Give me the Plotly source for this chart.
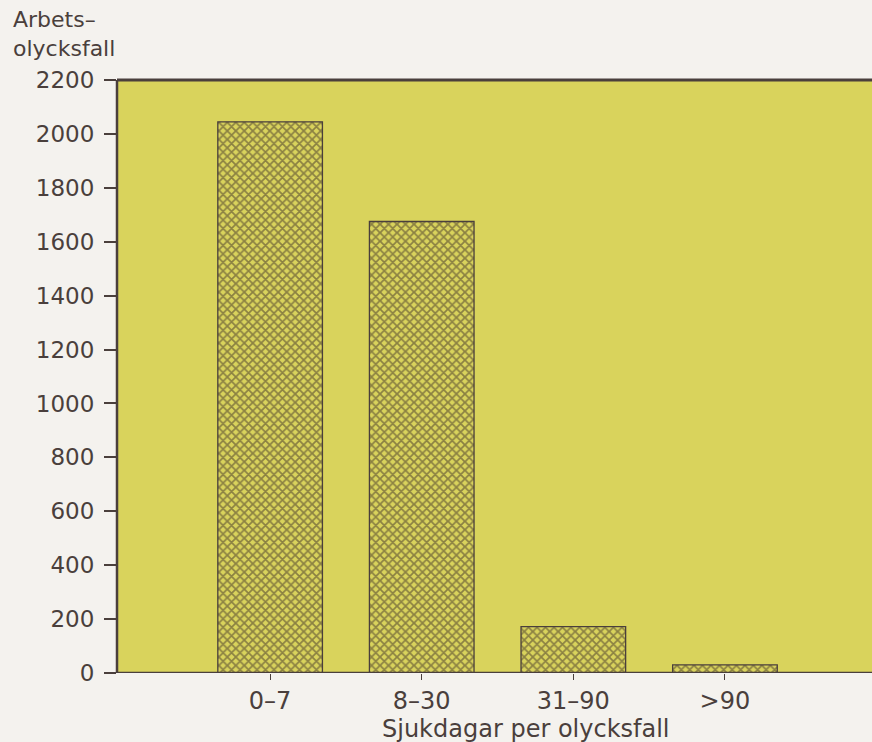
import plotly.graph_objects as go

# Data
categories = ["0\u20137", "8\u201330", "31\u201390", ">90"]
positions = [0, 1, 2, 3]
accidents = [2045, 1675, 172, 30]
y_ticks = [0, 200, 400, 600, 800, 1000, 1200, 1400, 1600, 1800, 2000, 2200]

yellow = "#d9d35c"
ink = "#4a3f3c"
paper = "#f4f2ee"
font = "DejaVu Sans"

fig = go.Figure(go.Bar(
    x=positions, y=accidents, width=0.69,
    marker=dict(color=yellow, line=dict(color=ink, width=1.3),
                pattern=dict(shape="x", fgcolor="#3e3028", bgcolor=yellow,
                             size=6, solidity=0.5)),
    showlegend=False))

fig.update_layout(
    width=872, height=742,
    margin=dict(l=117, r=0, t=80, b=69),
    paper_bgcolor=paper, plot_bgcolor=yellow,
    font=dict(family=font, size=22, color=ink),
    xaxis=dict(range=[-1.01, 3.97], tickvals=positions, ticktext=categories,
               ticks="outside", ticklen=6, tickcolor=ink, tickwidth=1,
               showgrid=False, zeroline=False, showline=False,
               tickfont=dict(size=24)),
    yaxis=dict(range=[0, 2200], tickvals=y_ticks, ticks="outside", ticklen=12,
               tickcolor=ink, tickwidth=1.5, showgrid=False, zeroline=False,
               showline=False, tickfont=dict(size=23), ticklabelstandoff=5),
)

# frame: left, top and baseline
fig.add_shape(type="line", xref="paper", yref="paper", x0=0, x1=0, y0=0, y1=1,
              line=dict(color=ink, width=2.5))
fig.add_shape(type="line", xref="paper", yref="paper", x0=0, x1=1, y0=1, y1=1,
              line=dict(color=ink, width=3))
fig.add_shape(type="line", xref="paper", yref="y", x0=0, x1=1, y0=0, y1=0,
              line=dict(color=ink, width=2.5))

fig.add_annotation(text="Arbets\u2013<br>olycksfall", xref="paper", yref="paper",
                   x=-0.141, y=1.126, xanchor="left", yanchor="top",
                   align="left", showarrow=False, font=dict(size=22, color=ink))
fig.add_annotation(text="Sjukdagar per olycksfall", xref="x", yref="paper",
                   x=1.69, y=-0.068, xanchor="center", yanchor="top",
                   showarrow=False, font=dict(size=24, color=ink))

fig.write_html("out.html", config={"displayModeBar": False},
               post_script="document.body.style.margin='0';"
                           "document.body.style.overflow='hidden';")
